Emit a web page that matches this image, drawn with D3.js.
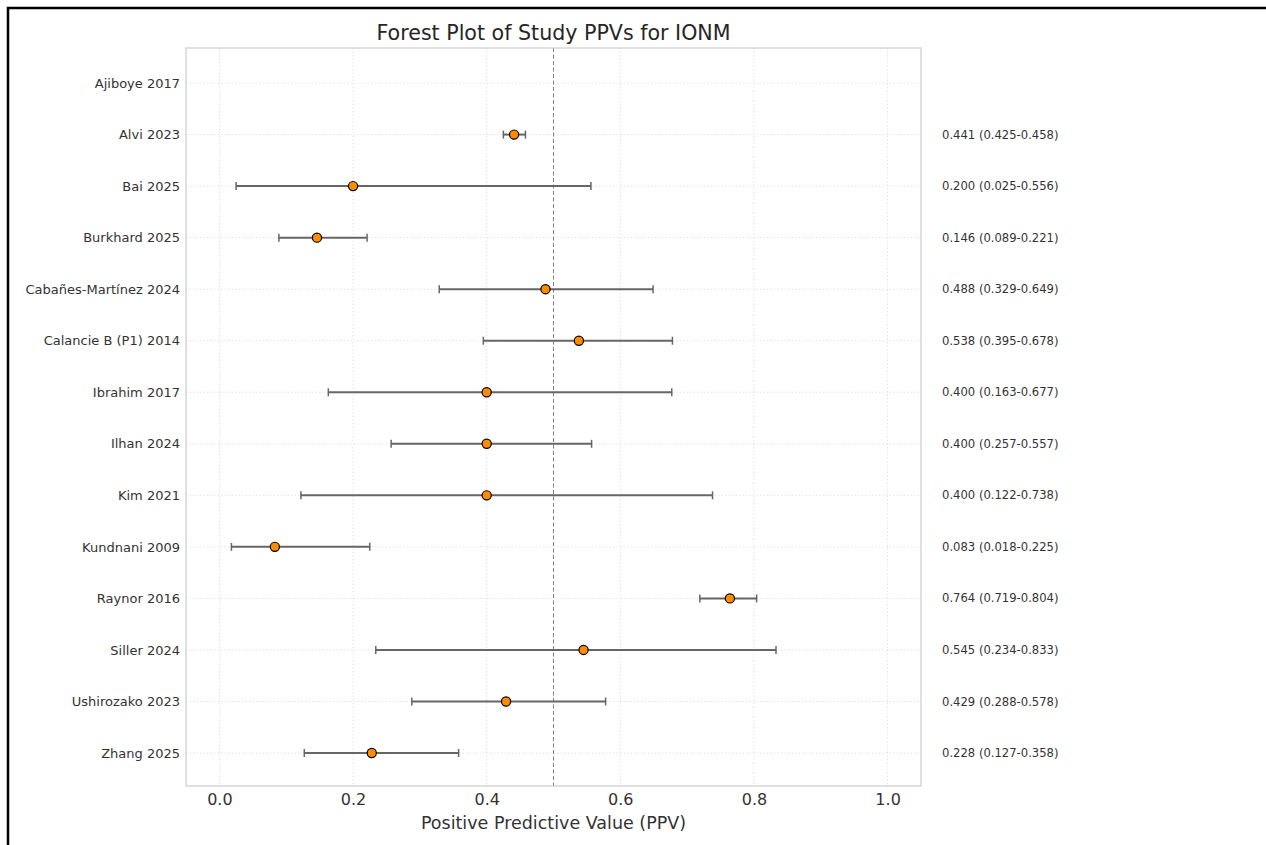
<!DOCTYPE html>
<html>
<head>
<meta charset="utf-8">
<script src="https://cdn.jsdelivr.net/npm/d3@7"></script>
<style>
  html, body { margin: 0; padding: 0; background: #fff; }
  svg { display: block; }
  text { font-family: "DejaVu Sans", sans-serif; }
</style>
</head>
<body>
<svg id="chart" width="1266" height="845"></svg>
<script>
const studies = ["Ajiboye 2017","Alvi 2023","Bai 2025","Burkhard 2025","Cabañes-Martínez 2024","Calancie B (P1) 2014","Ibrahim 2017","Ilhan 2024","Kim 2021","Kundnani 2009","Raynor 2016","Siller 2024","Ushirozako 2023","Zhang 2025"];
const ppv   = [null, 0.441, 0.200, 0.146, 0.488, 0.538, 0.400, 0.400, 0.400, 0.083, 0.764, 0.545, 0.429, 0.228];
const lower = [null, 0.425, 0.025, 0.089, 0.329, 0.395, 0.163, 0.257, 0.122, 0.018, 0.719, 0.234, 0.288, 0.127];
const upper = [null, 0.458, 0.556, 0.221, 0.649, 0.678, 0.677, 0.557, 0.738, 0.225, 0.804, 0.833, 0.578, 0.358];
const xTicks = [0.0, 0.2, 0.4, 0.6, 0.8, 1.0];
const refLine = 0.5;

(function () {
const svg = d3.select("#chart");
const pL = 186, pR = 921, pT = 48, pB = 786;

const x = d3.scaleLinear().domain([-0.05, 1.05]).range([pL, pR]);
const y = d3.scaleLinear().domain([-0.68, studies.length - 1 + 0.64]).range([pT, pB]);

// outer black frame
svg.append("path")
  .attr("d", `M8,${845+5} L8,8 L${1266+5},8`)
  .attr("fill", "none").attr("stroke", "#000").attr("stroke-width", 2.5);

// grid
const g = svg.append("g");
g.selectAll(".vgrid").data(xTicks).join("line")
  .attr("x1", d => x(d)).attr("x2", d => x(d))
  .attr("y1", pT).attr("y2", pB)
  .attr("stroke", "#dcdcdc").attr("stroke-width", 0.8).attr("stroke-dasharray", "1.5,2");
g.selectAll(".hgrid").data(studies).join("line")
  .attr("x1", pL).attr("x2", pR)
  .attr("y1", (d, i) => y(i)).attr("y2", (d, i) => y(i))
  .attr("stroke", "#dcdcdc").attr("stroke-width", 0.8).attr("stroke-dasharray", "1.5,2");

// reference line
svg.append("line")
  .attr("x1", x(refLine)).attr("x2", x(refLine))
  .attr("y1", pT).attr("y2", pB)
  .attr("stroke", "#808080").attr("stroke-width", 1).attr("stroke-dasharray", "4,2.5");

// spines
svg.append("rect")
  .attr("x", pL).attr("y", pT).attr("width", pR - pL).attr("height", pB - pT)
  .attr("fill", "none").attr("stroke", "#cccccc").attr("stroke-width", 1.2);

// axes (no tick marks)
const xAxis = d3.axisBottom(x).tickValues(xTicks).tickFormat(d3.format(".1f")).tickSize(0).tickPadding(8);
const xg = svg.append("g").attr("transform", `translate(0,${pB})`).call(xAxis);
xg.select(".domain").remove();
xg.selectAll("text").attr("font-size", 16).attr("fill", "#333").attr("font-family", "DejaVu Sans, sans-serif");

const yAxis = d3.axisLeft(y).tickValues(d3.range(studies.length)).tickFormat(i => studies[i]).tickSize(0).tickPadding(6);
const yg = svg.append("g").attr("transform", `translate(${pL},0)`).call(yAxis);
yg.select(".domain").remove();
yg.selectAll("text").attr("font-size", 13).attr("fill", "#333").attr("font-family", "DejaVu Sans, sans-serif");

// data
const rows = studies.map((s, i) => ({s, i, p: ppv[i], lo: lower[i], hi: upper[i]})).filter(d => d.p != null);

const eb = svg.append("g");
eb.selectAll(".bar").data(rows).join("line")
  .attr("x1", d => x(d.lo)).attr("x2", d => x(d.hi))
  .attr("y1", d => y(d.i)).attr("y2", d => y(d.i))
  .attr("stroke", "#666").attr("stroke-width", 2);
eb.selectAll(".capl").data(rows).join("line")
  .attr("x1", d => x(d.lo)).attr("x2", d => x(d.lo))
  .attr("y1", d => y(d.i) - 4).attr("y2", d => y(d.i) + 4)
  .attr("stroke", "#666").attr("stroke-width", 1.5);
eb.selectAll(".capr").data(rows).join("line")
  .attr("x1", d => x(d.hi)).attr("x2", d => x(d.hi))
  .attr("y1", d => y(d.i) - 4).attr("y2", d => y(d.i) + 4)
  .attr("stroke", "#666").attr("stroke-width", 1.5);

svg.append("g").selectAll("circle").data(rows).join("circle")
  .attr("cx", d => x(d.p)).attr("cy", d => y(d.i)).attr("r", 4.6)
  .attr("fill", "#ff8c00").attr("stroke", "#000").attr("stroke-width", 1.2);

// right-hand labels
const f3 = d3.format(".3f");
svg.append("g").selectAll("text").data(rows).join("text")
  .attr("x", 942).attr("y", d => y(d.i)).attr("dy", "0.35em")
  .attr("font-size", 11.6).attr("fill", "#333")
  .text(d => `${f3(d.p)} (${f3(d.lo)}-${f3(d.hi)})`);

// title and label
svg.append("text").attr("x", (pL + pR) / 2).attr("y", 33).attr("dy", "0.35em")
  .attr("text-anchor", "middle").attr("font-size", 20.6).attr("fill", "#262626")
  .text("Forest Plot of Study PPVs for IONM");
svg.append("text").attr("x", (pL + pR) / 2).attr("y", 823).attr("dy", "0.35em")
  .attr("text-anchor", "middle").attr("font-size", 17.5).attr("fill", "#333")
  .text("Positive Predictive Value (PPV)");
})();
</script>
</body>
</html>
